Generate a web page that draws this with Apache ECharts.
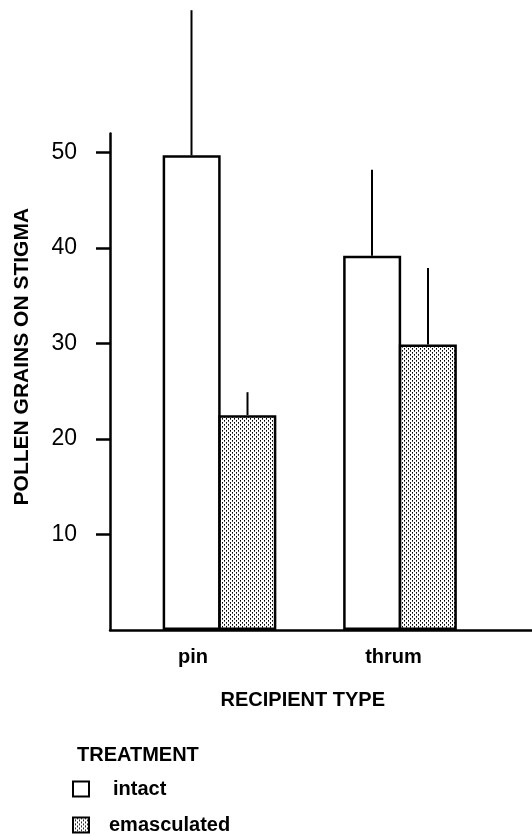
<!DOCTYPE html>
<html lang="en">
<head>
    <meta charset="UTF-8">
    <title>Pollen grains on stigma</title>
    <script src="https://cdn.jsdelivr.net/npm/echarts@6/dist/echarts.min.js"></script>
    <style>
        html, body { margin: 0; padding: 0; background: #fff; }
        #chart { width: 532px; height: 837px; }
    </style>
</head>
<body>
<div id="chart"></div>
<script>
    // data
    var categories = ['pin', 'thrum'];
    var intactMean = [49.7, 39.2];
    var intactUpper = [64.9, 48.2];
    var emascMean = [22.5, 29.9];
    var emascUpper = [24.9, 37.9];
    var yTicks = [10, 20, 30, 40, 50];

    var FONT = 'Liberation Sans';

    // stipple fill for the emasculated bars
    var tile = document.createElement('canvas');
    tile.width = 4; tile.height = 4;
    var g = tile.getContext('2d');
    g.fillStyle = '#fff'; g.fillRect(0, 0, 4, 4);
    g.fillStyle = '#000'; g.fillRect(0, 0, 1, 1); g.fillRect(2, 2, 1, 1);
    g.fillStyle = '#555'; g.fillRect(0, 1, 1, 1); g.fillRect(2, 3, 1, 1);
    var stipple = {image: tile, repeat: 'repeat'};

    function errBar(shift) {
        return function (params, api) {
            var a = api.coord([api.value(0), api.value(1)]);
            var b = api.coord([api.value(0), api.value(2)]);
            return {
                type: 'line',
                shape: {x1: a[0] + shift, y1: a[1], x2: b[0] + shift, y2: b[1]},
                style: {stroke: '#000', lineWidth: 2}
            };
        };
    }

    var myChart = echarts.init(document.getElementById('chart'));
    myChart.setOption({
        animation: false,
        title: {
            text: 'TREATMENT',
            left: 77, top: 745, padding: 0,
            textStyle: {fontFamily: FONT, fontSize: 20, fontWeight: 'bold', color: '#000'}
        },
        legend: {
            orient: 'vertical',
            left: 72, top: 779, padding: 0,
            itemWidth: 16, itemHeight: 15, itemGap: 16,
            icon: 'rect',
            textStyle: {fontFamily: FONT, fontSize: 20, fontWeight: 'bold', color: '#000'},
            data: [
                {name: 'intact', textStyle: {padding: [0, 0, 0, 19]}},
                {name: 'emasculated', textStyle: {padding: [0, 0, 0, 15]}}
            ]
        },
        grid: [
            // frame: axes lines
            {left: 110, right: 0, top: 133.4, bottom: 207, outerBoundsMode: 'none'},
            // data area
            {left: 129.25, width: 361, top: 133.4, bottom: 207, outerBoundsMode: 'none'}
        ],
        xAxis: [
            {
                gridIndex: 0, type: 'value', min: 0, max: 1,
                axisLine: {show: true, onZero: false, lineStyle: {color: '#000', width: 2.5}},
                axisTick: {show: false}, axisLabel: {show: false}, splitLine: {show: false}
            },
            {
                gridIndex: 1, type: 'category', data: categories,
                axisLine: {show: false}, axisTick: {show: false},
                axisLabel: {
                    margin: 17,
                    formatter: function (v) { return v === 'pin' ? '{p|pin}' : '{t|' + v + '}'; },
                    rich: {
                        p: {fontFamily: FONT, fontSize: 20, fontWeight: 'bold', color: '#000', padding: [0, 53, 0, 0]},
                        t: {fontFamily: FONT, fontSize: 20, fontWeight: 'bold', color: '#000', padding: [0, 13, 0, 0]}
                    }
                },
                name: 'RECIPIENT TYPE',
                nameLocation: 'middle',
                nameGap: 60,
                nameTextStyle: {fontFamily: FONT, fontSize: 20, fontWeight: 'bold', color: '#000', padding: [0, 14, 0, 0]}
            }
        ],
        yAxis: [
            {
                gridIndex: 0, type: 'value', min: 0, max: 52,
                axisLine: {show: true, lineStyle: {color: '#000', width: 2.5}},
                axisTick: {show: true, inside: false, length: 14, customValues: yTicks, lineStyle: {color: '#000', width: 2.5}},
                axisLabel: {customValues: yTicks, margin: 33, fontFamily: FONT, fontSize: 23, color: '#000'},
                splitLine: {show: false},
                name: 'POLLEN GRAINS ON STIGMA',
                nameLocation: 'middle',
                nameGap: 77,
                nameTextStyle: {fontFamily: FONT, fontSize: 21, fontWeight: 'bold', color: '#000', padding: [0, 0, 0, 50]}
            },
            {gridIndex: 1, type: 'value', min: 0, max: 52, show: false}
        ],
        series: [
            {
                name: 'intact', type: 'bar', xAxisIndex: 1, yAxisIndex: 1,
                barWidth: 58, barGap: '-4%',
                itemStyle: {color: '#fff', borderColor: '#000', borderWidth: 2.5},
                data: intactMean
            },
            {
                name: 'emasculated', type: 'bar', xAxisIndex: 1, yAxisIndex: 1,
                barWidth: 58, barGap: '-4%',
                itemStyle: {color: stipple, borderColor: '#000', borderWidth: 2.5},
                data: emascMean
            },
            {
                type: 'custom', xAxisIndex: 1, yAxisIndex: 1, clip: false, z: 1,
                renderItem: errBar(-28),
                encode: {x: 0, y: [1, 2]},
                data: categories.map(function (c, i) { return [i, intactMean[i], intactUpper[i]]; })
            },
            {
                type: 'custom', xAxisIndex: 1, yAxisIndex: 1, clip: false, z: 1,
                renderItem: errBar(28),
                encode: {x: 0, y: [1, 2]},
                data: categories.map(function (c, i) { return [i, emascMean[i], emascUpper[i]]; })
            }
        ]
    });
</script>
</body>
</html>
